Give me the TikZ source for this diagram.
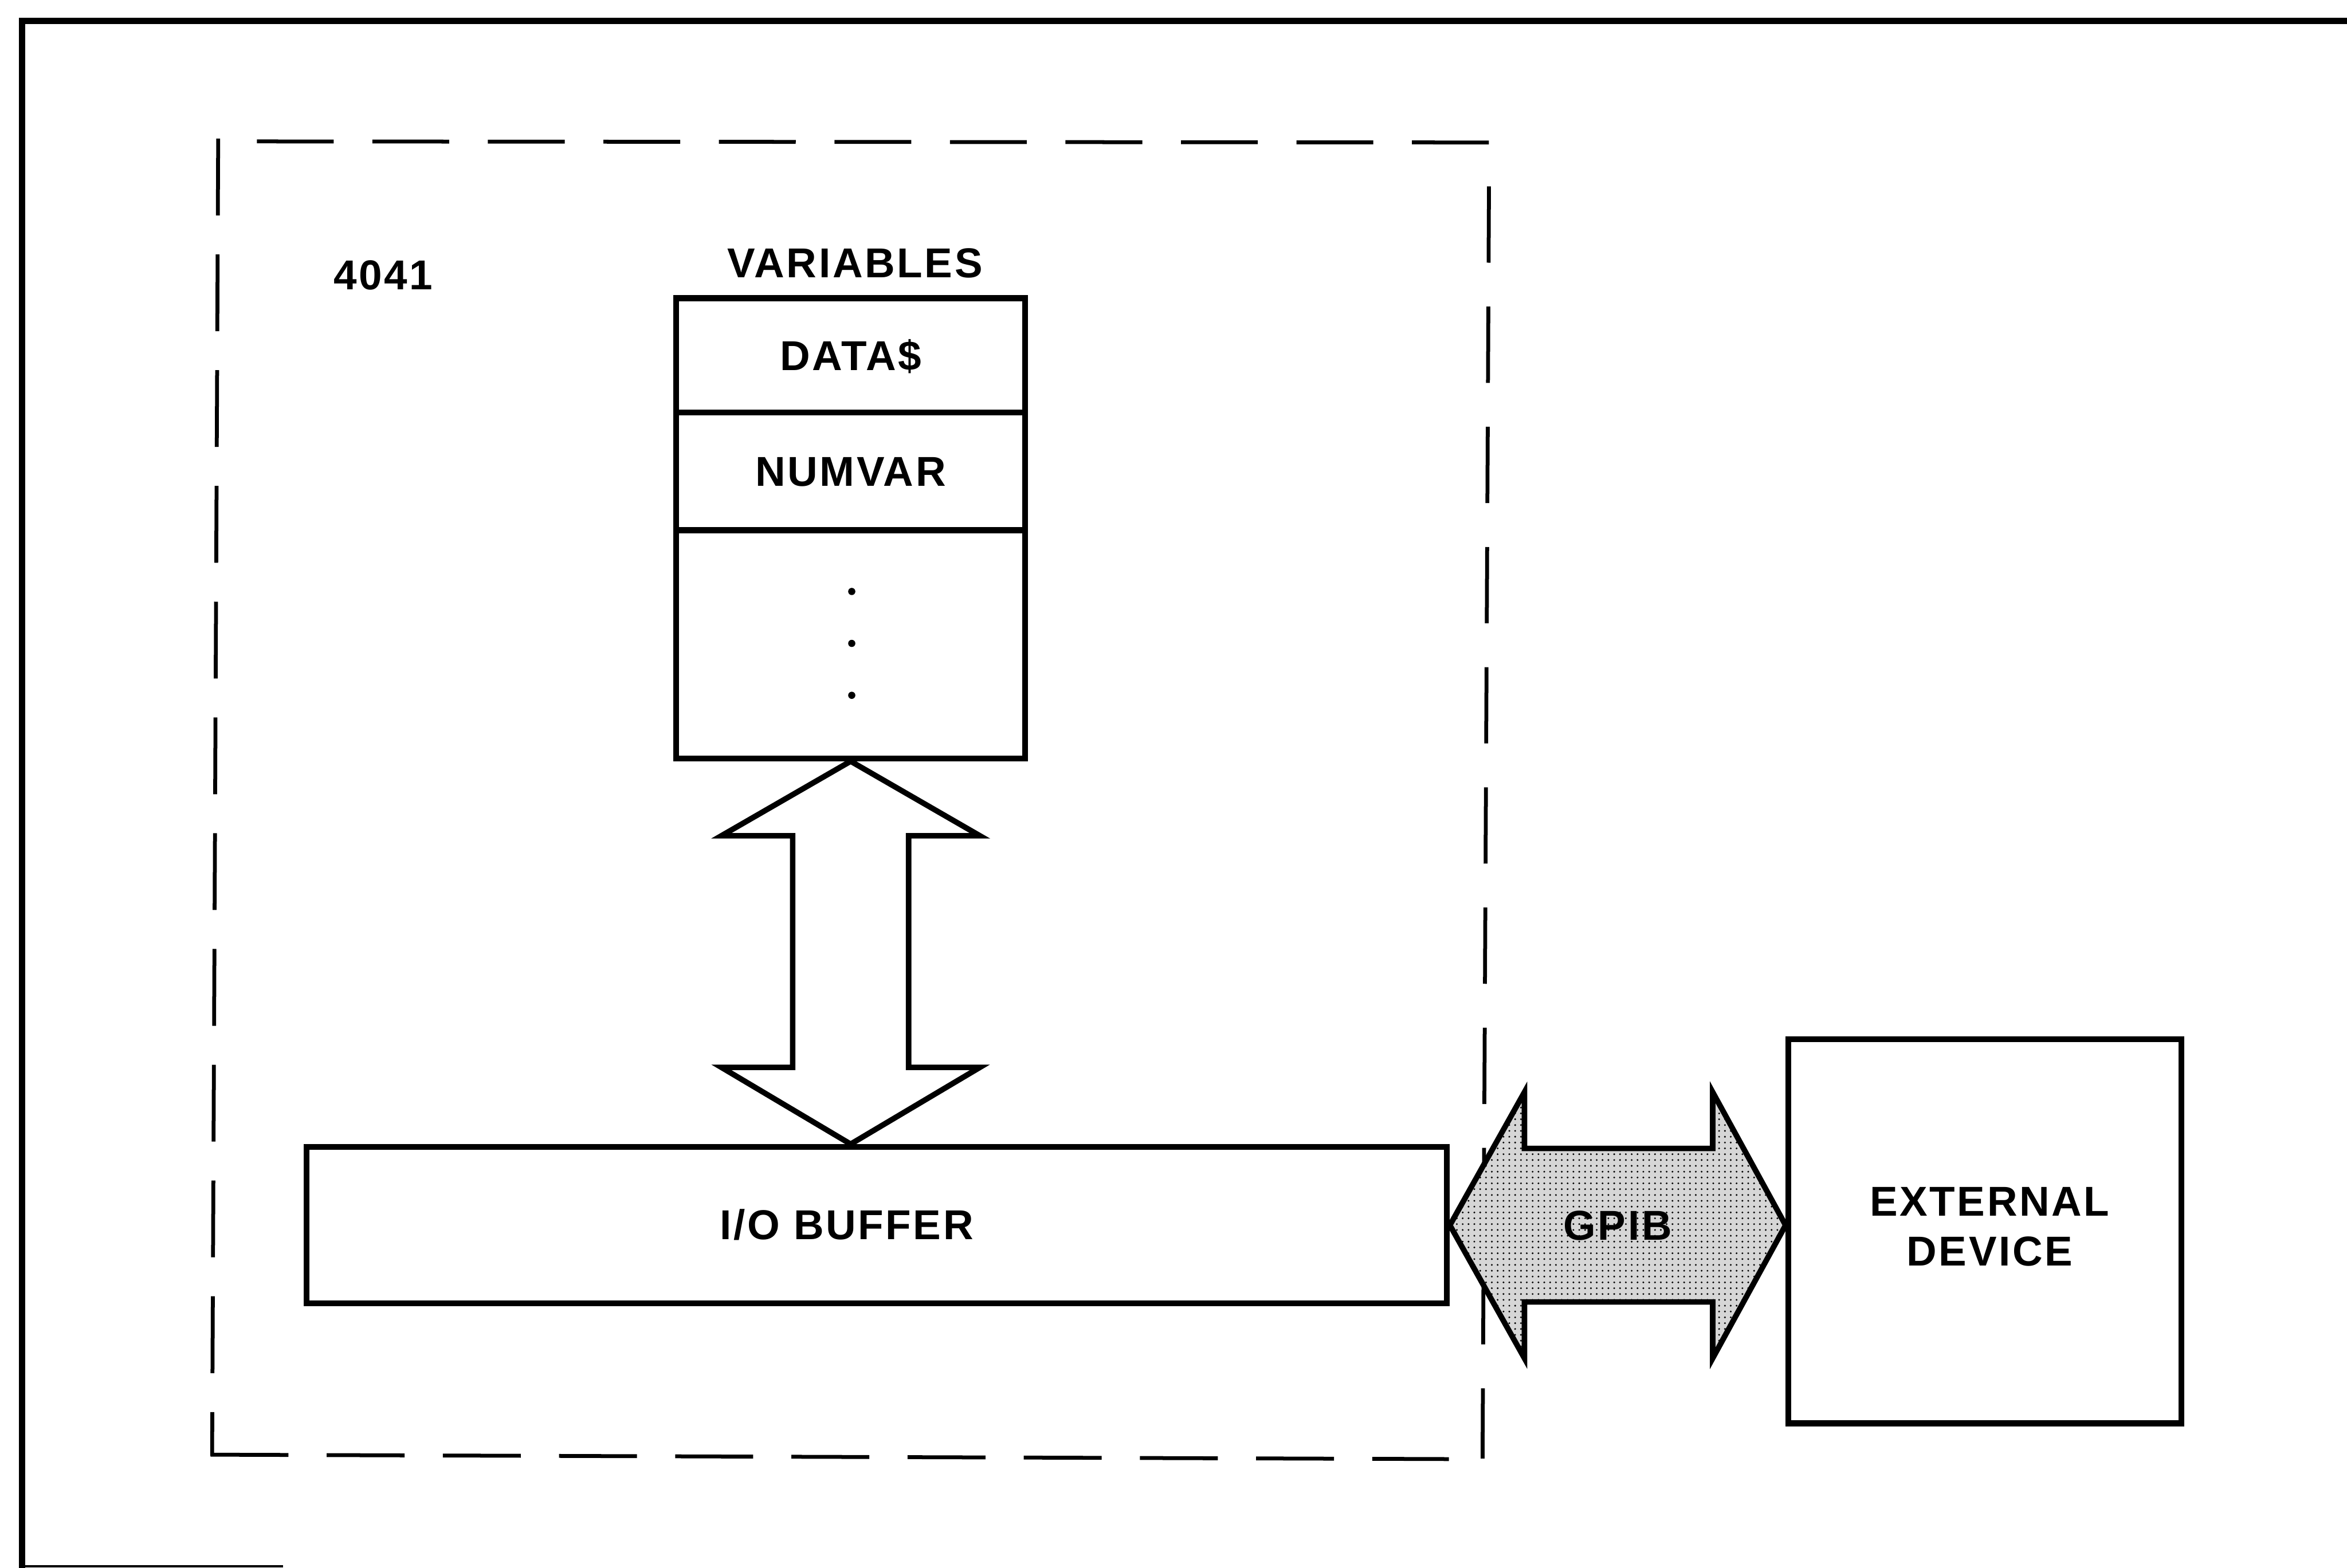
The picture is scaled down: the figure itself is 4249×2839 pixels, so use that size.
\documentclass[tikz,border=0pt]{standalone}
\usepackage{fontspec}
\setmainfont{Liberation Sans}
\newfontfamily\tdlblfam[LetterSpace=5]{Liberation Sans}
\newcommand\tdlabelfont{\tdlblfam\bfseries\fontsize{21.5pt}{25.6pt}\selectfont}
\usetikzlibrary{patterns,calc}
\begin{document}
\begin{tikzpicture}[x=0.01cm,y=-0.01cm,
  frameline/.style={line width=0.11cm, line join=miter},
  dashline/.style={line width=0.07cm},
  boxline/.style={draw=black, line width=0.105cm, rectangle, inner sep=0pt,
    font=\tdlabelfont},
  capstext/.style={text height=15.4pt, text depth=0pt},
  cell/.style={boxline, capstext, minimum width=6.32cm},
  lbl/.style={font=\tdlabelfont, inner sep=0pt, capstext},
  vdot/.style={circle, fill=black, inner sep=0pt, minimum size=0.13cm},
  busarrow/.style={draw=black, line width=0.1cm, line join=miter, fill=white},
  gpibarrow/.style={draw=black, line width=0.1cm, line join=miter,
    preaction={fill=black!16}, pattern=dots},
]
\useasboundingbox (0,0) rectangle (4249,2839);

% outer frame (cropped at right and bottom)
\draw[frameline] (40,2839) -- (40,38) -- (4249,38);
\draw[line width=0.05cm] (38,2836) -- (512,2836);

% dashed 4041 boundary
\draw[dashline, dash pattern=on 1.39cm off 0.705cm] (395,251) -- (384,2636);
\draw[dashline, dash pattern=on 1.39cm off 0.70cm, dash phase=1.39cm] (395,256) -- (2702,258);
\draw[dashline, dash pattern=on 1.38cm off 0.795cm, dash phase=1.38cm] (2696,258) -- (2684,2641);
\draw[dashline, dash pattern=on 1.41cm off 0.692cm] (381,2634) -- (2623,2642);

% labels
\node[lbl] (model) at (694,497) {4041};
\node[lbl] (varlabel) at (1548,476) {VARIABLES};

% variables table
\node[cell, minimum height=2.07cm] (datacell) at (1540,643.5) {DATA\$};
\node[cell, minimum height=2.13cm] (numcell) at (1540,853.5) {NUMVAR};
\node[cell, minimum height=4.13cm] (restcell) at (1540,1166.5) {};
\node[vdot] (dota) at (1542,1071) {};
\node[vdot] (dotb) at (1542,1165) {};
\node[vdot] (dotc) at (1542,1259) {};

% I/O buffer and external device
\node[boxline, minimum width=20.63cm, minimum height=2.83cm] (iobuf) at (1587.5,2218.5) {};
\node[lbl] (iotext) at (1533,2217) {I/O BUFFER};
\node[boxline, minimum width=7.11cm, minimum height=6.95cm] (extdev) at (3593.5,2229.5) {};
\node[lbl, text height=, text depth=, align=center] (exttext) at (3602,2221) {EXTERNAL\\DEVICE};

% vertical double arrow between variables and I/O buffer
\coordinate (vtop) at (restcell.south);
\coordinate (vbot) at (restcell.south |- iobuf.north);
\draw[busarrow] (vtop) -- ++(234,135) -- ++(-129,0)
  -- ($(vbot)+(105,-139)$) -- ++(129,0) -- (vbot)
  -- ++(-234,-139) -- ++(129,0)
  -- ($(vtop)+(-105,135)$) -- ++(-129,0) -- cycle;

% GPIB double arrow
\coordinate (gl) at (iobuf.east);
\coordinate (gr) at (extdev.west |- iobuf.east);
\draw[gpibarrow] (gl) -- ++(135,-241) -- ++(0,102)
  -- ($(gr)+(-132,-139)$) -- ++(0,-102) -- (gr)
  -- ++(-132,241) -- ++(0,-102)
  -- ($(gl)+(135,139)$) -- ++(0,102) -- cycle;
\node[lbl] (gpib) at ($(gl)!0.5!(gr)$) {GPIB};
\end{tikzpicture}
\end{document}
